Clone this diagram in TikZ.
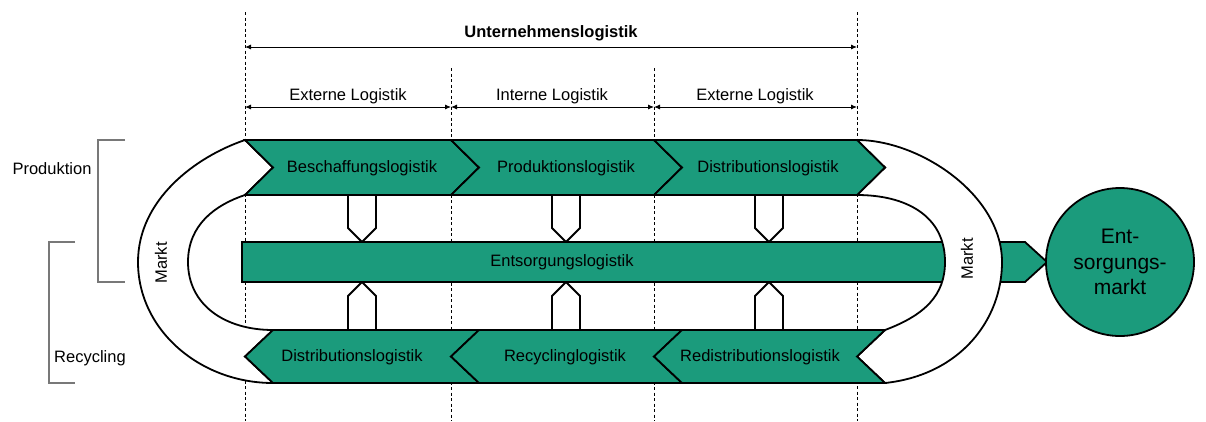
\documentclass[tikz,border=0pt]{standalone}
\usepackage{fontspec}
\setmainfont{Liberation Sans}
\usetikzlibrary{arrows.meta}
\definecolor{bandgreen}{RGB}{27,155,124}
\definecolor{bracketgray}{RGB}{120,120,120}
\tikzset{
  band/.style={fill=bandgreen, draw=black, line width=1.8pt, line join=miter},
  marktband/.style={fill=white, draw=black, line width=1.8pt},
  link/.style={draw=black, line width=1.8pt, line join=miter},
  guide/.style={draw=black, line width=0.6pt, dash pattern=on 3pt off 2.5pt},
  dim/.style={draw=black, line width=0.9pt, {Latex[length=6pt,width=5pt]}-{Latex[length=6pt,width=5pt]}},
  bracket/.style={draw=bracketgray, line width=1.1pt},
  lbl/.style={font=\fontsize{16.5}{19}\selectfont, inner sep=0pt},
  bold/.style={font=\fontsize{16.5}{19}\selectfont\bfseries, inner sep=0pt},
}
\begin{document}
\begin{tikzpicture}[x=1pt, y=-1pt]
\useasboundingbox (0,0) rectangle (1206,421);

% vertical guide lines
\coordinate (g1t) at (245,12);  \coordinate (g1b) at (245,421);
\coordinate (g2t) at (451,68);  \coordinate (g2b) at (451,421);
\coordinate (g3t) at (654,68);  \coordinate (g3b) at (654,421);
\coordinate (g4t) at (857,12);  \coordinate (g4b) at (857,421);
\foreach \g in {1,...,4} \draw[guide] (g\g t) -- (g\g b);

% dimension arrows
\coordinate (u1) at (245,47);  \coordinate (u2) at (857,47);
\draw[dim] (u1) -- (u2);
\node[bold] (unt) at (551,33) {Unternehmenslogistik};
\coordinate (d1) at (245,107); \coordinate (d2) at (451,107);
\coordinate (d3) at (654,107); \coordinate (d4) at (857,107);
\draw[dim] (d1) -- (d2);
\draw[dim] (d2) -- (d3);
\draw[dim] (d3) -- (d4);
\node[lbl] (ext1) at (348,96) {Externe Logistik};
\node[lbl] (int)  at (552,96) {Interne Logistik};
\node[lbl] (ext2) at (755,96) {Externe Logistik};

% left brackets
\draw[bracket] (125,140) -- (98,140) -- (98,282) -- (125,282);
\draw[bracket] (75,242) -- (49,242) -- (49,383) -- (75,383);
\node[lbl] (prod) at (52,169) {Produktion};
\node[lbl] (recy) at (90,358) {Recycling};

% links into and out of the disposal band (drawn first, bands overlap their ends)
\foreach \c in {362,566,769} {
  \fill[white] (\c-14,195) -- (\c-14,228) -- (\c,242) -- (\c+14,228) -- (\c+14,195) -- cycle;
  \draw[link] (\c-14,195) -- (\c-14,228) -- (\c,242) -- (\c+14,228) -- (\c+14,195);
  \fill[white] (\c-14,330) -- (\c-14,296) -- (\c,282) -- (\c+14,296) -- (\c+14,330) -- cycle;
  \draw[link] (\c-14,330) -- (\c-14,296) -- (\c,282) -- (\c+14,296) -- (\c+14,330);
}

% disposal band with arrow head towards the market
\draw[band] (242,242) -- (1025,242) -- (1047,262) -- (1025,282) -- (242,282) -- cycle;
\node[lbl] (ents) at (562,262) {Entsorgungslogistik};

% market bands
\draw[marktband] (245,140) .. controls (195,157) and (138,200) .. (138,262)
  .. controls (138,330) and (200,383) .. (273,383) -- (245,356.5) -- (273,330)
  .. controls (225,330) and (188,305) .. (188,262)
  .. controls (188,225) and (215,205) .. (245,195) -- (273,167.5) -- cycle;
\draw[marktband] (857,140) .. controls (920,140) and (1002,195) .. (1002,262)
  .. controls (1002,320) and (960,375) .. (885,383) -- (857,356.5) -- (885,330)
  .. controls (925,315) and (945,295) .. (945,262)
  .. controls (945,215) and (905,195) .. (857,195) -- (885,167.5) -- cycle;
\node[lbl, rotate=90] (markt1) at (161,263) {Markt};
\node[lbl, rotate=90] (markt2) at (967,259) {Markt};

% forward chevrons
\foreach \a/\b in {245/451, 451/654, 654/857}
  \draw[band] (\a,140) -- (\b,140) -- (\b+28,167.5) -- (\b,195) -- (\a,195) -- (\a+28,167.5) -- cycle;
% backward chevrons
\foreach \a/\b in {245/451, 451/654, 654/857}
  \draw[band] (\a,356.5) -- (\a+28,330) -- (\b+28,330) -- (\b,356.5) -- (\b+28,383) -- (\a+28,383) -- cycle;

\node[lbl] (besch) at (362,168) {Beschaffungslogistik};
\node[lbl] (prodl) at (566,168) {Produktionslogistik};
\node[lbl] (distt) at (768,168) {Distributionslogistik};
\node[lbl] (distb) at (352,357) {Distributionslogistik};
\node[lbl] (recl)  at (565,357) {Recyclinglogistik};
\node[lbl] (redis) at (760,357) {Redistributionslogistik};

% disposal market
\node[circle, fill=bandgreen, draw=black, line width=1.8pt, minimum size=148pt,
      inner sep=0pt, align=center, font=\fontsize{21}{25.5}\selectfont]
  (esm) at (1120,262) {Ent-\\sorgungs-\\markt};
\end{tikzpicture}
\end{document}
